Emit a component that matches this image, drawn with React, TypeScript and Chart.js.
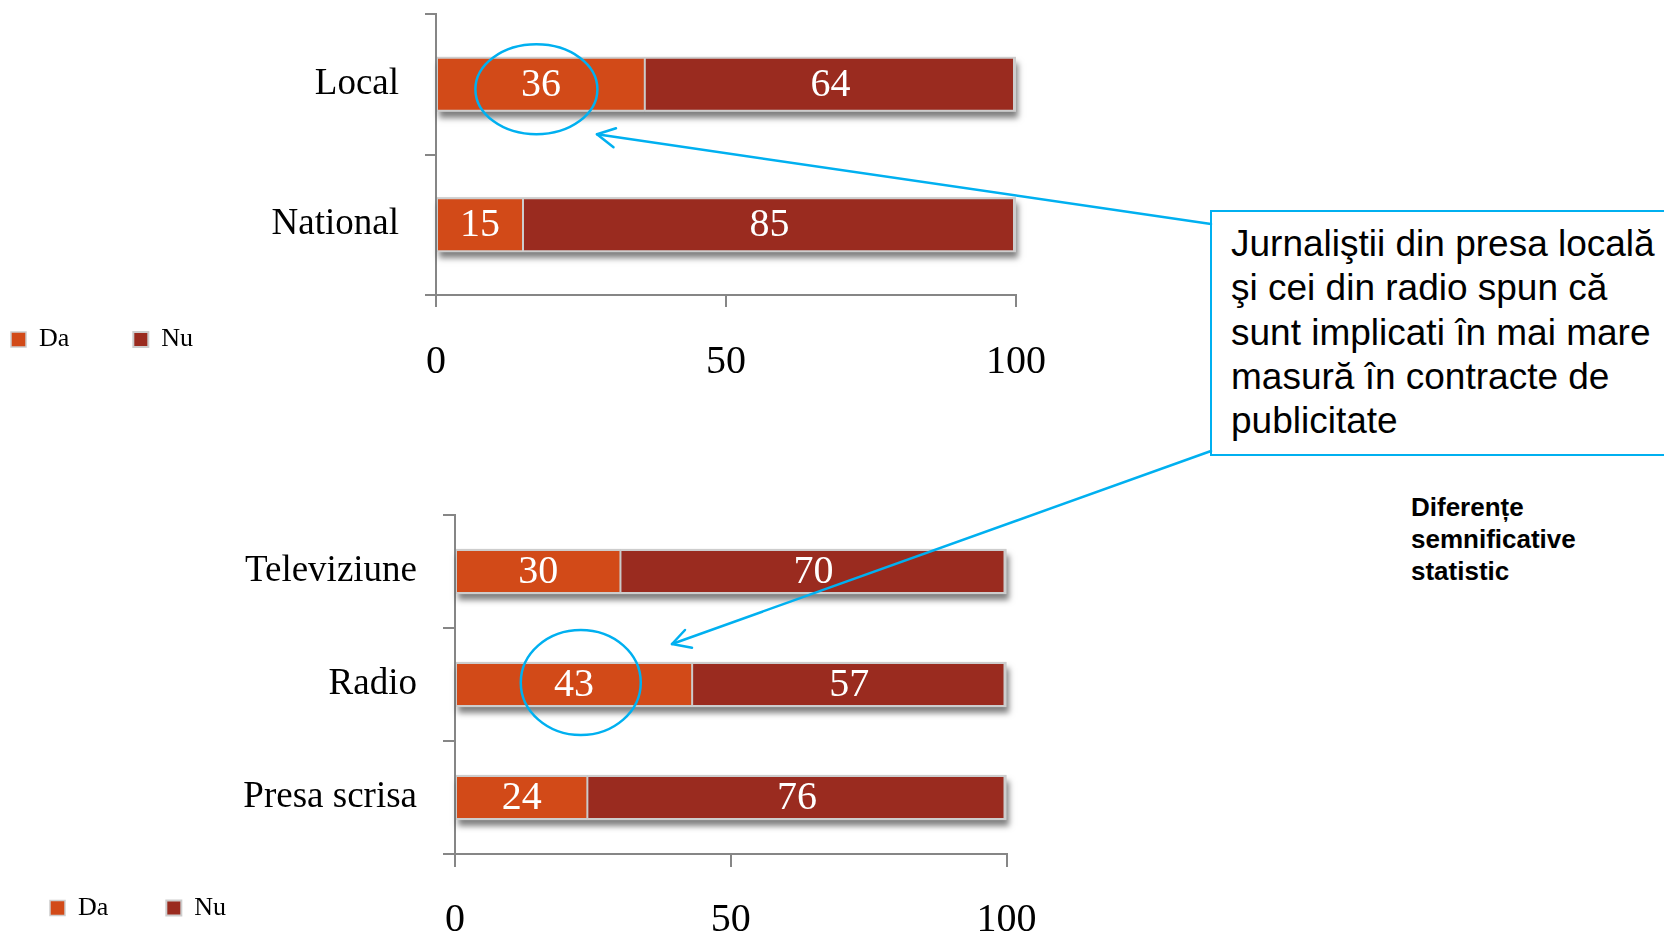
import React, { useEffect, useRef } from 'react';
import { Chart, registerables } from 'chart.js';

Chart.register(...registerables);

// ---------- data ----------
const topCategories = ['Local', 'National'];
const topDa = [36, 15];
const topNu = [64, 85];

const bottomCategories = ['Televiziune', 'Radio', 'Presa scrisa'];
const bottomDa = [30, 43, 24];
const bottomNu = [70, 57, 76];

const xTicks = [0, 50, 100];
const seriesNames = ['Da', 'Nu'];

const calloutLines = [
  'Jurnaliştii din presa locală',
  'şi cei din radio spun că',
  'sunt implicati în mai mare',
  'masură în contracte de',
  'publicitate',
];
const noteLines = ['Diferențe', 'semnificative', 'statistic'];

// ---------- styles ----------
const DA_COLOR = '#D24A18';
const NU_COLOR = '#9A2B1F';
const EDGE = '#CDCDCD';
const AXIS = '#868686';
const BLUE = '#00B0F0';
const SERIF = '"Liberation Serif", "Times New Roman", serif';
const SANS = '"Liberation Sans", Arial, Helvetica, sans-serif';

const barShadow = {
  id: 'barShadow',
  beforeDatasetsDraw(chart: any) {
    const ctx = chart.ctx;
    const first = chart.getDatasetMeta(0).data;
    const last = chart.getDatasetMeta(chart.data.datasets.length - 1).data;
    first.forEach((el: any, i: number) => {
      const a = el.getProps(['y', 'base', 'height'], true);
      const b = last[i].getProps(['x'], true);
      ctx.save();
      ctx.shadowColor = 'rgba(0,0,0,0.5)';
      ctx.shadowBlur = 6;
      ctx.shadowOffsetX = 2;
      ctx.shadowOffsetY = 6;
      ctx.fillStyle = '#c8c8c8';
      ctx.fillRect(a.base, a.y - a.height / 2, b.x - a.base, a.height);
      ctx.restore();
    });
  },
};

const valueLabels = {
  id: 'valueLabels',
  afterDatasetsDraw(chart: any) {
    const ctx = chart.ctx;
    ctx.save();
    ctx.font = `40px ${SERIF}`;
    ctx.fillStyle = '#ffffff';
    ctx.textAlign = 'center';
    ctx.textBaseline = 'middle';
    chart.data.datasets.forEach((ds: any, di: number) => {
      chart.getDatasetMeta(di).data.forEach((el: any, i: number) => {
        const p = el.getProps(['x', 'y', 'base'], true);
        ctx.fillText(String(ds.data[i]), (p.x + p.base) / 2, p.y + 1);
      });
    });
    ctx.restore();
  },
};

const ringPlugin = {
  id: 'ring',
  afterDraw(chart: any, _args: any, o: any) {
    if (!o || o.index === undefined) return;
    const el = chart.getDatasetMeta(0).data[o.index];
    if (!el) return;
    const p = el.getProps(['x', 'y', 'base'], true);
    const ctx = chart.ctx;
    ctx.save();
    ctx.strokeStyle = BLUE;
    ctx.lineWidth = 2.5;
    ctx.beginPath();
    ctx.ellipse((p.x + p.base) / 2 + o.dx, p.y + o.dy, o.rx, o.ry, 0, 0, Math.PI * 2);
    ctx.stroke();
    ctx.restore();
  },
};

const legendPlace = {
  id: 'legendPlace',
  beforeDraw(chart: any, _args: any, o: any) {
    const l = chart.legend;
    if (!l || !o) return;
    const w = l.width;
    l.left = o.left;
    l.right = o.left + w;
    l.top = o.top;
    l.bottom = o.top + 120;
  },
};

type Panel = {
  categories: string[];
  da: number[];
  nu: number[];
  top: number;
  width: number;
  height: number;
  axisWidth: number;
  axisHeight: number;
  padTop: number;
  padRight: number;
  yTick: number;
  xTick: number;
  yPad: number;
  xPad: number;
  barPct: number;
  legendLeft: number;
  legendTop: number;
  legendPad: number;
  ring: { index: number; rx: number; ry: number; dx: number; dy: number };
};

function BarPanel({ p }: { p: Panel }) {
  const ref = useRef<HTMLCanvasElement>(null);
  useEffect(() => {
    if (!ref.current) return;
    const chart = new Chart(ref.current, {
      type: 'bar',
      data: {
        labels: p.categories,
        datasets: [
          {
            label: seriesNames[0],
            data: p.da,
            backgroundColor: DA_COLOR,
            borderColor: EDGE,
            borderWidth: { top: 2, bottom: 2, left: 1, right: 1 },
            borderSkipped: false,
            barPercentage: p.barPct,
            categoryPercentage: 1,
          },
          {
            label: seriesNames[1],
            data: p.nu,
            backgroundColor: NU_COLOR,
            borderColor: EDGE,
            borderWidth: { top: 2, bottom: 2, left: 1, right: 3 },
            borderSkipped: false,
            barPercentage: p.barPct,
            categoryPercentage: 1,
          },
        ],
      },
      options: {
        indexAxis: 'y',
        responsive: false,
        animation: false,
        events: [],
        layout: { padding: { top: p.padTop, right: p.padRight, left: 0, bottom: 0 } },
        scales: {
          x: {
            type: 'linear',
            stacked: true,
            min: 0,
            max: 100,
            afterBuildTicks: (s: any) => {
              s.ticks = xTicks.map((v) => ({ value: v }));
            },
            afterFit: (s: any) => {
              s.height = p.axisHeight;
            },
            grid: { drawOnChartArea: false, tickLength: p.xTick, color: AXIS, lineWidth: 2 },
            border: { color: AXIS, width: 2 },
            ticks: {
              color: '#000',
              padding: p.xPad,
              maxRotation: 0,
              font: { family: SERIF, size: 40 },
            },
          },
          y: {
            type: 'category',
            stacked: true,
            afterFit: (s: any) => {
              s.width = p.axisWidth;
              s.paddingTop = 0;
              s.paddingBottom = 0;
            },
            grid: {
              drawOnChartArea: false,
              tickLength: p.yTick,
              color: AXIS,
              lineWidth: 2,
              offset: true,
            },
            border: { color: AXIS, width: 2 },
            ticks: { color: '#000', padding: p.yPad, font: { family: SERIF, size: 37 } },
          },
        },
        plugins: {
          legend: {
            position: 'bottom',
            align: 'start',
            maxHeight: 1,
            labels: {
              color: '#000',
              font: { family: SERIF, size: 26 },
              boxWidth: 15,
              boxHeight: 15,
              padding: p.legendPad,
            },
          },
          tooltip: { enabled: false },
          legendPlace: { left: p.legendLeft, top: p.legendTop },
          ring: p.ring,
        } as any,
      },
      plugins: [barShadow, valueLabels, ringPlugin, legendPlace],
    } as any);
    return () => chart.destroy();
  }, []);
  return (
    <canvas
      ref={ref}
      width={p.width}
      height={p.height}
      style={{ position: 'absolute', left: 0, top: p.top, width: p.width, height: p.height }}
    />
  );
}

const topPanel: Panel = {
  categories: topCategories,
  da: topDa,
  nu: topNu,
  top: 0,
  width: 1100,
  height: 400,
  axisWidth: 436,
  axisHeight: 104,
  padTop: 14,
  padRight: 84,
  yTick: 11,
  xTick: 12,
  yPad: 26,
  xPad: 31,
  barPct: 0.39,
  legendLeft: -53,
  legendTop: 262.5,
  legendPad: 64,
  ring: { index: 0, rx: 61, ry: 45, dx: -4.5, dy: 5 },
};

const bottomPanel: Panel = {
  categories: bottomCategories,
  da: bottomDa,
  nu: bottomNu,
  top: 470,
  width: 1100,
  height: 468,
  axisWidth: 455,
  axisHeight: 83,
  padTop: 45,
  padRight: 93.5,
  yTick: 12,
  xTick: 13,
  yPad: 26,
  xPad: 29,
  barPct: 0.4,
  legendLeft: -8,
  legendTop: 367,
  legendPad: 58,
  ring: { index: 1, rx: 60, ry: 52.5, dx: 6.7, dy: -2 },
};

export default function App() {
  return (
    <div
      style={{
        position: 'absolute',
        left: 0,
        top: 0,
        width: 1664,
        height: 938,
        overflow: 'hidden',
        background: '#ffffff',
      }}
    >
      <BarPanel p={topPanel} />
      <BarPanel p={bottomPanel} />
      <div
        style={{
          position: 'absolute',
          left: 1210,
          top: 210,
          width: 480,
          height: 246,
          boxSizing: 'border-box',
          border: `2px solid ${BLUE}`,
          background: '#ffffff',
          paddingLeft: 19,
          paddingTop: 10,
          fontFamily: SANS,
          fontSize: 37,
          lineHeight: '44.3px',
          color: '#000',
          whiteSpace: 'nowrap',
        }}
      >
        {calloutLines.map((t, i) => (
          <div key={i}>{t}</div>
        ))}
      </div>
      <div
        style={{
          position: 'absolute',
          left: 1411,
          top: 491,
          fontFamily: SANS,
          fontWeight: 'bold',
          fontSize: 26,
          lineHeight: '32px',
          color: '#000',
          whiteSpace: 'nowrap',
        }}
      >
        {noteLines.map((t, i) => (
          <div key={i}>{t}</div>
        ))}
      </div>
      <svg
        width={1664}
        height={938}
        style={{ position: 'absolute', left: 0, top: 0, pointerEvents: 'none' }}
      >
        <g stroke={BLUE} strokeWidth={2.5} fill="none" strokeLinecap="round" strokeLinejoin="round">
          <line x1={1211} y1={224} x2={597} y2={134.3} />
          <polyline points="616,128.3 597,134.3 613.5,147.3" />
          <line x1={1211} y1={451} x2={672} y2={644} />
          <polyline points="685,630 672,644 692,647.7" />
        </g>
      </svg>
    </div>
  );
}
